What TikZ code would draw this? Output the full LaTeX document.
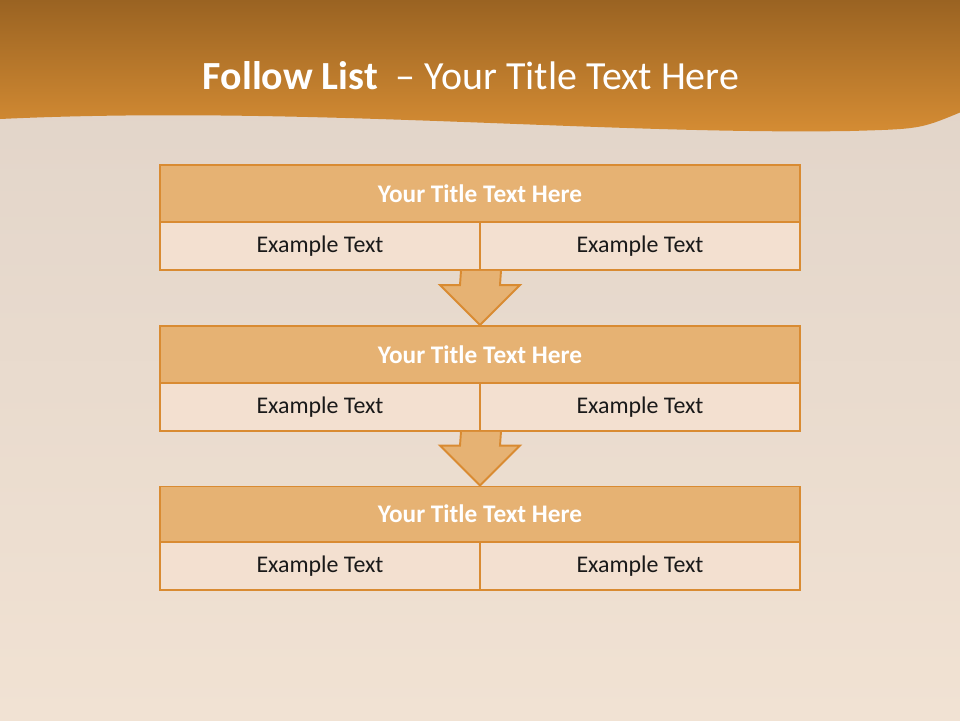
\documentclass[tikz,border=0pt]{standalone}
\usepackage{fontspec}
\setmainfont{Carlito}
\usepackage{xcolor}
\usetikzlibrary{calc}

\definecolor{bandtop}{HTML}{9A6322}
\definecolor{bandbot}{HTML}{D68D34}
\definecolor{rowline}{HTML}{D98B32}
\definecolor{headfill}{HTML}{E6B273}
\definecolor{cellfill}{HTML}{F3E0D0}
\definecolor{backtop}{HTML}{E0D3C8}
\definecolor{backbot}{HTML}{F1E2D3}

\begin{document}
\begin{tikzpicture}[
  font=\normalsize,
  head/.style={draw=rowline, fill=headfill, line width=1.1pt,
    minimum width=12.8cm, minimum height=1.14cm, inner sep=0pt,
    text=white, font=\fontsize{14.4}{17}\selectfont\bfseries},
  cell/.style={draw=rowline, fill=cellfill, line width=1.1pt,
    minimum width=6.4cm, minimum height=0.96cm, inner sep=0pt,
    text=black!90, font=\fontsize{13.6}{16}\selectfont},
  down/.style={draw=rowline, fill=headfill, line width=1.1pt, line join=miter}
]
% backdrop and header band
\useasboundingbox (0,0) rectangle (19.2,-14.4);
\shade[top color=backtop, bottom color=backbot] (0,0) rectangle (19.2,-14.4);
\shade[top color=bandtop, bottom color=bandbot]
  (0,0) -- (19.2,0) -- (19.2,-2.25)
  .. controls (18.4,-2.58) .. (17,-2.62)
  .. controls (12,-2.7) and (6,-2.1) .. (0,-2.38) -- cycle;
\node[text=white, font=\fontsize{22.7}{27}\selectfont] (title) at (9.42,-1.52)
  {\textbf{Follow List}\ \ -- Your Title Text Here};

% three blocks
\node[head] (t1) at (9.6,-3.87) {Your Title Text Here};
\node[cell] (l1) at (6.4,-4.92) {Example Text};
\node[cell] (r1) at (12.8,-4.92) {Example Text};

\node[head] (t2) at (9.6,-7.09) {Your Title Text Here};
\node[cell] (l2) at (6.4,-8.14) {Example Text};
\node[cell] (r2) at (12.8,-8.14) {Example Text};

\node[head, minimum height=1.1cm] (t3) at (9.6,-10.28) {Your Title Text Here};
\node[cell] (l3) at (6.4,-11.32) {Example Text};
\node[cell] (r3) at (12.8,-11.32) {Example Text};

% block arrows
\foreach \a/\b in {l1/t2, l2/t3} {
  \draw[down] ($(\a.south east)+(-0.4,0)$) -- ($(\b.north)+(-0.4,0.8)$)
    -- ($(\b.north)+(-0.8,0.8)$) -- (\b.north) -- ($(\b.north)+(0.8,0.8)$)
    -- ($(\b.north)+(0.4,0.8)$) -- ($(\a.south east)+(0.4,0)$);
}
\end{tikzpicture}
\end{document}
